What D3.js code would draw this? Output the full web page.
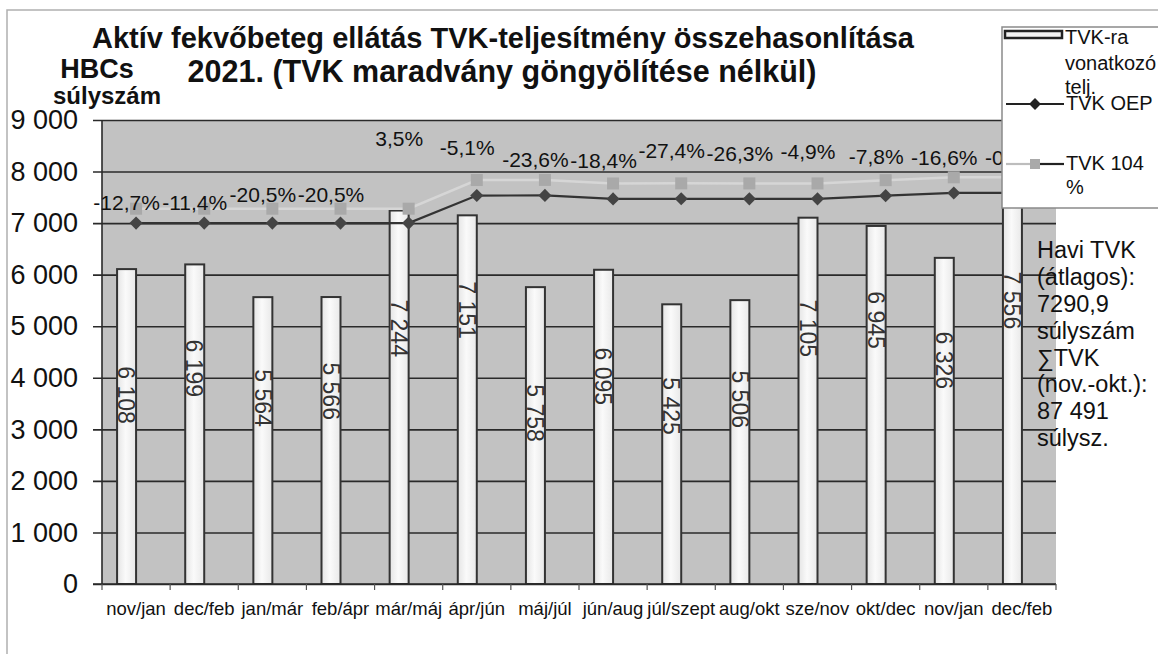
<!DOCTYPE html>
<html>
<head>
<meta charset="utf-8">
<script src="https://cdn.jsdelivr.net/npm/d3@7"></script>
<style>
body { margin: 0; background: #fff; }
text { font-family: "Liberation Sans", Arial, sans-serif; fill: #111; }
</style>
</head>
<body>
<script>
// Periods (two-month windows)
var categories = ["nov/jan", "dec/feb", "jan/már", "feb/ápr", "már/máj", "ápr/jún", "máj/júl",
                  "jún/aug", "júl/szept", "aug/okt", "sze/nov", "okt/dec", "nov/jan", "dec/feb"];

// TVK-ra vonatkozó teljesítmény (bars)
var teljesites = [6108, 6199, 5564, 5566, 7244, 7151, 5758, 6095, 5425, 5506, 7105, 6945, 6326, 7556];

// TVK OEP line
var tvkOep = [7000, 7000, 7000, 7000, 7000, 7535, 7537, 7470, 7472, 7471, 7471, 7532, 7585, 7585];

// TVK 104 % line
var tvk104 = [7280, 7280, 7280, 7280, 7280, 7836, 7838, 7769, 7771, 7770, 7770, 7833, 7888, 7888];

// percentage labels over the bars
var pctLabels = ["-12,7%", "-11,4%", "-20,5%", "-20,5%", "3,5%", "-5,1%", "-23,6%", "-18,4%",
                 "-27,4%", "-26,3%", "-4,9%", "-7,8%", "-16,6%", "-0,4%"];

var yTicks = [0, 1000, 2000, 3000, 4000, 5000, 6000, 7000, 8000, 9000];

var legendItems = ["TVK-ra vonatkozó telj.", "TVK OEP", "TVK 104 %"];
var sideNote = ["Havi TVK", "(átlagos):", "7290,9", "súlyszám", "∑TVK", "(nov.-okt.):", "87 491", "súlysz."];

// ---- layout ----
var W = 1158, H = 654;
var plotL = 102, plotR = 1056, plotT = 120, plotB = 584;

// hand placement of the labels (as in the scanned chart)
var pctNudge = [-6, -6, -14, -14, -70, -33, -20, -23, -33, -30, -32, -24, -20, -20];
var barLabelAt = [0.60, 0.675, 0.648, 0.672, 0.685, 0.743, 0.576, 0.661, 0.636, 0.651, 0.698, 0.737, 0.686, 0.728];

var svg = d3.select("body").append("svg").attr("width", W).attr("height", H);

var x = d3.scaleBand().domain(d3.range(categories.length)).range([plotL, plotR]);
var y = d3.scaleLinear().domain([0, 9000]).range([plotB, plotT]);
var fmt = function(d){ return d3.format(",")(d).replace(/,/g, " "); };

// outer frame of the scan
svg.append("path").attr("d", "M7,654 V10 H1158").attr("fill", "none")
    .attr("stroke", "#b0b0b0").attr("stroke-width", 1.5);

// plot background
svg.append("rect").attr("x", plotL).attr("y", plotT).attr("width", plotR - plotL).attr("height", plotB - plotT)
    .attr("fill", "#c2c2c2");

// gridlines + y axis
var yAxis = svg.append("g").attr("transform", "translate(" + plotL + ",0)")
    .call(d3.axisLeft(y).tickValues(yTicks).tickSize(-(plotR - plotL)).tickFormat(""));
yAxis.selectAll(".tick line").attr("stroke", "#2a2a2a").attr("stroke-width", 1.6).attr("x1", -9);
yAxis.select(".domain").remove();
svg.append("line").attr("x1", plotL).attr("x2", plotL).attr("y1", plotT).attr("y2", plotB)
    .attr("stroke", "#2a2a2a").attr("stroke-width", 1.6);

svg.append("g").selectAll("text").data(yTicks).join("text")
    .attr("x", 78).attr("y", function(d){ return y(d); }).attr("dy", "0.34em")
    .attr("text-anchor", "end").style("font-size", "27px")
    .text(fmt);

// bars
var defs = svg.append("defs");
var grad = defs.append("linearGradient").attr("id", "barFill");
grad.append("stop").attr("offset", "0%").attr("stop-color", "#e4e4e4");
grad.append("stop").attr("offset", "45%").attr("stop-color", "#fafafa");
grad.append("stop").attr("offset", "100%").attr("stop-color", "#e8e8e8");

var barW = 19;
function barX(i){ return x(i) + x.bandwidth() / 2 - barW; }

svg.append("g").selectAll("rect").data(teljesites).join("rect")
    .attr("x", function(d, i){ return barX(i); })
    .attr("y", function(d){ return y(d); })
    .attr("width", barW)
    .attr("height", function(d){ return plotB - y(d); })
    .attr("fill", "url(#barFill)")
    .attr("stroke", "#333").attr("stroke-width", 2);

// x axis
svg.append("line").attr("x1", plotL - 9).attr("x2", plotR).attr("y1", plotB).attr("y2", plotB)
    .attr("stroke", "#2a2a2a").attr("stroke-width", 1.6);
svg.append("g").selectAll("line").data(d3.range(categories.length + 1)).join("line")
    .attr("x1", function(i){ return plotL + i * x.step(); })
    .attr("x2", function(i){ return plotL + i * x.step(); })
    .attr("y1", plotB).attr("y2", plotB + 6)
    .attr("stroke", "#555").attr("stroke-width", 1.2);
svg.append("g").selectAll("text").data(categories).join("text")
    .attr("x", function(d, i){ return x(i) + x.bandwidth() / 2; })
    .attr("y", 608).attr("dy", "0.36em")
    .attr("text-anchor", "middle").style("font-size", "18.5px")
    .text(function(d){ return d; });

// bar value labels (rotated)
svg.append("g").selectAll("text").data(teljesites).join("text")
    .attr("transform", function(d, i){
        return "translate(" + (barX(i) + barW / 2) + "," + y(d * barLabelAt[i]) + ") rotate(90)";
    })
    .attr("dy", "0.36em").attr("text-anchor", "middle")
    .style("font-size", "23px").style("fill", "#333")
    .text(fmt);

// lines
var line = d3.line()
    .x(function(d, i){ return x(i) + x.bandwidth() / 2; })
    .y(function(d){ return y(d); });

svg.append("path").datum(tvk104).attr("d", line).attr("fill", "none")
    .attr("stroke", "#d6d6d6").attr("stroke-width", 2.5);
svg.append("g").selectAll("rect").data(tvk104).join("rect")
    .attr("x", function(d, i){ return x(i) + x.bandwidth() / 2 - 6; })
    .attr("y", function(d){ return y(d) - 6; })
    .attr("width", 12).attr("height", 12)
    .attr("fill", "#a9a9a9");

svg.append("path").datum(tvkOep).attr("d", line).attr("fill", "none")
    .attr("stroke", "#333").attr("stroke-width", 2.2);
svg.append("g").selectAll("path").data(tvkOep).join("path")
    .attr("d", d3.symbol(d3.symbolDiamond2, 110))
    .attr("transform", function(d, i){ return "translate(" + (x(i) + x.bandwidth() / 2) + "," + y(d) + ")"; })
    .attr("fill", "#444");

// percentage labels
svg.append("g").selectAll("text").data(pctLabels).join("text")
    .attr("x", function(d, i){ return barX(i) + barW / 2; })
    .attr("y", function(d, i){ return y(tvk104[i]) + pctNudge[i]; })
    .attr("dy", "0.36em").attr("text-anchor", "middle")
    .style("font-size", "21px")
    .text(function(d){ return d; });

// title
svg.append("text").attr("x", 503).attr("y", 48).attr("text-anchor", "middle")
    .style("font-size", "29px").style("font-weight", "bold")
    .text("Aktív fekvőbeteg ellátás TVK-teljesítmény összehasonlítása");
svg.append("text").attr("x", 502).attr("y", 82).attr("text-anchor", "middle")
    .style("font-size", "30.5px").style("font-weight", "bold")
    .text("2021. (TVK maradvány göngyölítése nélkül)");
svg.append("text").attr("x", 97).attr("y", 78).attr("text-anchor", "middle")
    .style("font-size", "27px").style("font-weight", "bold").text("HBCs");
svg.append("text").attr("x", 107).attr("y", 104).attr("text-anchor", "middle")
    .style("font-size", "24px").style("font-weight", "bold").text("súlyszám");

// legend
var lg = svg.append("g");
lg.append("rect").attr("x", 1002).attr("y", 27).attr("width", 170).attr("height", 181)
    .attr("fill", "#fff").attr("stroke", "#8a8a8a").attr("stroke-width", 1.5);
lg.append("rect").attr("x", 1005).attr("y", 31).attr("width", 57).attr("height", 7)
    .attr("fill", "#f2f2f2").attr("stroke", "#222").attr("stroke-width", 2.5);
var legLines = [["TVK-ra", 37], ["vonatkozó", 63], ["telj.", 87]];
lg.selectAll("text.l1").data(legLines).join("text").attr("class", "l1")
    .attr("x", 1065).attr("y", function(d){ return d[1]; }).attr("dy", "0.36em")
    .style("font-size", "20px").text(function(d){ return d[0]; });

lg.append("line").attr("x1", 1006).attr("x2", 1064).attr("y1", 104).attr("y2", 104)
    .attr("stroke", "#222").attr("stroke-width", 2.2);
lg.append("path").attr("d", d3.symbol(d3.symbolDiamond2, 90))
    .attr("transform", "translate(1035,104)").attr("fill", "#222");
lg.append("text").attr("x", 1066).attr("y", 103).attr("dy", "0.36em")
    .style("font-size", "20px").text(legendItems[1]);

lg.append("line").attr("x1", 1006).attr("x2", 1036).attr("y1", 164).attr("y2", 164)
    .attr("stroke", "#bdbdbd").attr("stroke-width", 2.2);
lg.append("line").attr("x1", 1036).attr("x2", 1064).attr("y1", 164).attr("y2", 164)
    .attr("stroke", "#222").attr("stroke-width", 2.2);
lg.append("rect").attr("x", 1030).attr("y", 159).attr("width", 10).attr("height", 10).attr("fill", "#a9a9a9");
lg.append("text").attr("x", 1066).attr("y", 163).attr("dy", "0.36em")
    .style("font-size", "20px").text("TVK 104");
lg.append("text").attr("x", 1066).attr("y", 187).attr("dy", "0.36em")
    .style("font-size", "20px").text("%");

// side note
svg.append("g").selectAll("text").data(sideNote).join("text")
    .attr("x", 1037).attr("y", function(d, i){ return 250 + i * 26.8; }).attr("dy", "0.36em")
    .style("font-size", "23.5px").text(function(d){ return d; });
</script>
</body>
</html>
